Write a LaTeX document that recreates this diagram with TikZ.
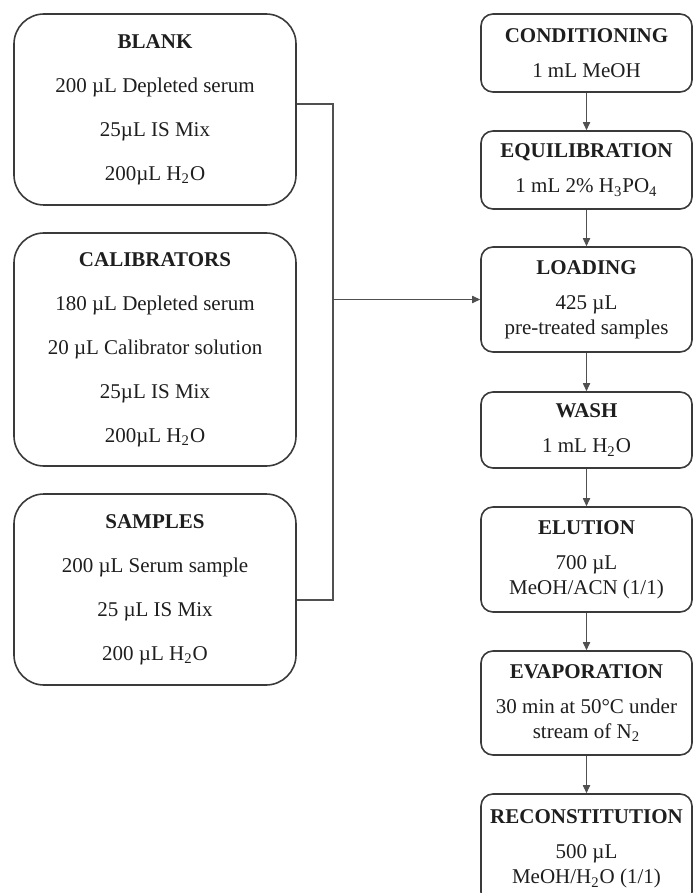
\documentclass[tikz,border=0pt]{standalone}
\usepackage{fontspec}
\setmainfont{Liberation Serif}
\usetikzlibrary{arrows.meta}

\definecolor{boxline}{HTML}{3A3A3A}
\definecolor{linkline}{HTML}{505050}
\definecolor{inktext}{HTML}{1E1E1E}

\tikzset{
  prepbox/.style={draw=boxline, line width=0.8pt, rounded corners=15pt,
    minimum width=141pt, inner sep=0pt, align=center, text=inktext,
    font=\fontsize{10.5}{12.5}\selectfont},
  spebox/.style={draw=boxline, line width=0.8pt, rounded corners=6pt,
    minimum width=105.5pt, inner sep=0pt, align=center, text=inktext,
    font=\fontsize{10.5}{12.5}\selectfont},
  link/.style={draw=linkline, line width=0.55pt},
  flow/.style={link, -{Triangle[length=4pt,width=3.6pt]}}
}

\begin{document}
\begin{tikzpicture}[x=0.5pt,y=-0.5pt]

\useasboundingbox (0,0) rectangle (693,893);

\node[prepbox, minimum height=95.5pt] (blank) at (155,109.5)
  {\textbf{BLANK}\\[9.5pt]200 µL Depleted serum\\[9.5pt]25µL IS Mix\\[9.5pt]200µL H\textsubscript{2}O};

\node[prepbox, minimum height=116.5pt] (calib) at (155,349.5)
  {\textbf{CALIBRATORS}\\[9.5pt]180 µL Depleted serum\\[9.5pt]20 µL Calibrator solution\\[9.5pt]25µL IS Mix\\[9.5pt]200µL H\textsubscript{2}O};

\node[prepbox, minimum height=95.5pt] (samples) at (155,589.5)
  {\textbf{SAMPLES}\\[9.5pt]200 µL Serum sample\\[9.5pt]25 µL IS Mix\\[9.5pt]200 µL H\textsubscript{2}O};

\node[spebox, minimum height=39pt] (cond) at (586.5,53)
  {\textbf{CONDITIONING}\\[5pt]1 mL MeOH};

\node[spebox, minimum height=39pt] (equil) at (586.5,170)
  {\textbf{EQUILIBRATION}\\[5pt]1 mL 2\% H\textsubscript{3}PO\textsubscript{4}};

\node[spebox, minimum height=52.5pt] (loading) at (586.5,299.5)
  {\textbf{LOADING}\\[5pt]425 µL\\pre-treated samples};

\node[spebox, minimum height=38pt] (wash) at (586.5,430)
  {\textbf{WASH}\\[5pt]1 mL H\textsubscript{2}O};

\node[spebox, minimum height=52.5pt] (elution) at (586.5,559.5)
  {\textbf{ELUTION}\\[5pt]700 µL\\MeOH/ACN (1/1)};

\node[spebox, minimum height=52pt] (evap) at (586.5,703)
  {\textbf{EVAPORATION}\\[5pt]30 min at 50°C under\\stream of N\textsubscript{2}};

\node[spebox, minimum height=55pt] (recon) at (586.5,849)
  {\textbf{RECONSTITUTION}\\[5pt]500 µL\\MeOH/H\textsubscript{2}O (1/1)};

\coordinate (join) at (333,299.5);

\draw[link] ([yshift=2.75pt]blank.east) -| (join);
\draw[link] ([yshift=-5.25pt]samples.east) -| (join);
\draw[flow] (join) -- (loading.west);

\draw[flow] (cond) -- (equil);
\draw[flow] (equil) -- (loading);
\draw[flow] (loading) -- (wash);
\draw[flow] (wash) -- (elution);
\draw[flow] (elution) -- (evap);
\draw[flow] (evap) -- (recon);

\end{tikzpicture}
\end{document}
